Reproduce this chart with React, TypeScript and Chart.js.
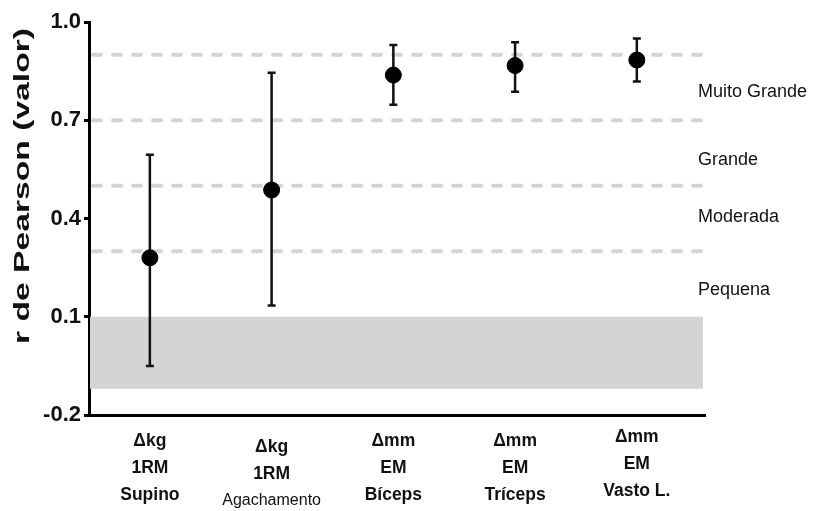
import React, { useEffect, useRef } from "react";
import { Chart, registerables } from "chart.js";

Chart.register(...registerables);

// ---- data ----
const categoryLines: string[][] = [
  ["Δkg", "1RM", "Supino"],
  ["Δkg", "1RM", "Agachamento"],
  ["Δmm", "EM", "Bíceps"],
  ["Δmm", "EM", "Tríceps"],
  ["Δmm", "EM", "Vasto L."],
];
const meanR = [0.28, 0.487, 0.838, 0.867, 0.884];
const upperR = [0.595, 0.845, 0.93, 0.938, 0.95];
const lowerR = [-0.05, 0.134, 0.747, 0.787, 0.818];
const yTickValues = [-0.2, 0.1, 0.4, 0.7, 1.0];
const thresholdLines = [0.3, 0.5, 0.7, 0.9];
const zoneLabels = ["Pequena", "Moderada", "Grande", "Muito Grande"];
const zoneLabelValues = [0.182, 0.405, 0.58, 0.786];
const trivialBand = [-0.12, 0.1];
const yTitle = "r de Pearson (valor)";

const FONT = '"Liberation Sans", Arial, Helvetica, sans-serif';

const decorPlugin = {
  id: "decor",
  beforeDatasetsDraw(chart: any) {
    const { ctx, chartArea, scales } = chart;
    const x = scales.x;
    const y = scales.y;
    ctx.save();
    // trivial band
    ctx.fillStyle = "#d4d4d4";
    const yTop = y.getPixelForValue(trivialBand[1]);
    const yBot = y.getPixelForValue(trivialBand[0]);
    ctx.fillRect(chartArea.left + 1, yTop, chartArea.right - chartArea.left - 3, yBot - yTop);
    // dashed threshold lines
    ctx.strokeStyle = "#d3d3d3";
    ctx.lineWidth = 4;
    ctx.lineCap = "round";
    ctx.setLineDash([8, 12]);
    thresholdLines.forEach((v) => {
      const py = y.getPixelForValue(v);
      ctx.beginPath();
      ctx.moveTo(chartArea.left + 4, py);
      ctx.lineTo(chartArea.right, py);
      ctx.stroke();
    });
    ctx.setLineDash([]);
    // error bars
    ctx.strokeStyle = "#111";
    ctx.lineWidth = 2.5;
    ctx.lineCap = "butt";
    meanR.forEach((_, i) => {
      const px = x.getPixelForValue(i + 1);
      const pt = y.getPixelForValue(upperR[i]);
      const pb = y.getPixelForValue(lowerR[i]);
      ctx.beginPath();
      ctx.moveTo(px, pt);
      ctx.lineTo(px, pb);
      ctx.moveTo(px - 4, pt);
      ctx.lineTo(px + 4, pt);
      ctx.moveTo(px - 4, pb);
      ctx.lineTo(px + 4, pb);
      ctx.stroke();
    });
    ctx.restore();
  },
  afterDraw(chart: any) {
    const { ctx, chartArea, scales } = chart;
    const x = scales.x;
    const y = scales.y;
    ctx.save();
    ctx.fillStyle = "#111";
    // zone labels
    ctx.font = `18px ${FONT}`;
    ctx.textAlign = "left";
    ctx.textBaseline = "middle";
    zoneLabels.forEach((t, i) => {
      ctx.fillText(t, chartArea.right - 7, y.getPixelForValue(zoneLabelValues[i]));
    });
    // x category labels
    ctx.textAlign = "center";
    categoryLines.forEach((lines, i) => {
      const px = x.getPixelForValue(i + 1);
      const base = chartArea.bottom + (i === 1 ? 32 : i === 4 ? 22 : 26);
      lines.forEach((t, j) => {
        const isLong = t.length > 9;
        ctx.font = isLong ? `16px ${FONT}` : `bold 17.5px ${FONT}`;
        ctx.fillText(t, px, base + j * 27);
      });
    });
    // y title (stretched along its direction)
    ctx.font = `bold 22px ${FONT}`;
    const w = ctx.measureText(yTitle).width;
    const target = 316;
    ctx.translate(23, 186);
    ctx.rotate(-Math.PI / 2);
    ctx.scale(target / w, 1);
    ctx.textAlign = "center";
    ctx.textBaseline = "middle";
    ctx.fillText(yTitle, 0, 0);
    ctx.restore();
  },
};

export default function App() {
  const ref = useRef<HTMLCanvasElement | null>(null);
  useEffect(() => {
    document.body.style.margin = "0";
    if (!ref.current) return;
    const chart = new Chart(ref.current, {
      type: "scatter",
      data: {
        datasets: [
          {
            data: meanR.map((v, i) => ({ x: i + 1, y: v })),
            backgroundColor: "#000",
            borderColor: "#000",
            pointRadius: 8,
            pointHoverRadius: 8,
          },
        ],
      },
      options: {
        animation: false,
        responsive: false,
        maintainAspectRatio: false,
        layout: { padding: { top: 22, right: 109, bottom: 0, left: 0 } },
        plugins: { legend: { display: false }, tooltip: { enabled: false } },
        scales: {
          x: {
            type: "linear",
            min: 0.5,
            max: 5.56,
            grid: { display: false },
            border: { display: true, color: "#000", width: 3 },
            ticks: { display: false },
            afterFit: (s: any) => {
              s.height = 96;
            },
          },
          y: {
            type: "linear",
            min: -0.2,
            max: 1.0,
            afterBuildTicks: (s: any) => {
              s.ticks = yTickValues.map((v) => ({ value: v }));
            },
            grid: {
              display: true,
              drawOnChartArea: false,
              drawTicks: true,
              tickLength: 5,
              lineWidth: 3,
              color: "#000",
            },
            border: { display: true, color: "#000", width: 3 },
            ticks: {
              color: "#111",
              padding: 3,
              font: { family: FONT, size: 22, weight: "bold" },
              callback: (v: any) => Number(v).toFixed(1),
            },
            afterFit: (s: any) => {
              s.width = 89;
            },
          },
        },
      },
      plugins: [decorPlugin],
    } as any);
    return () => chart.destroy();
  }, []);
  return (
    <div style={{ width: 814, height: 511, background: "#fff" }}>
      <canvas ref={ref} width={814} height={511} style={{ display: "block" }} />
    </div>
  );
}
